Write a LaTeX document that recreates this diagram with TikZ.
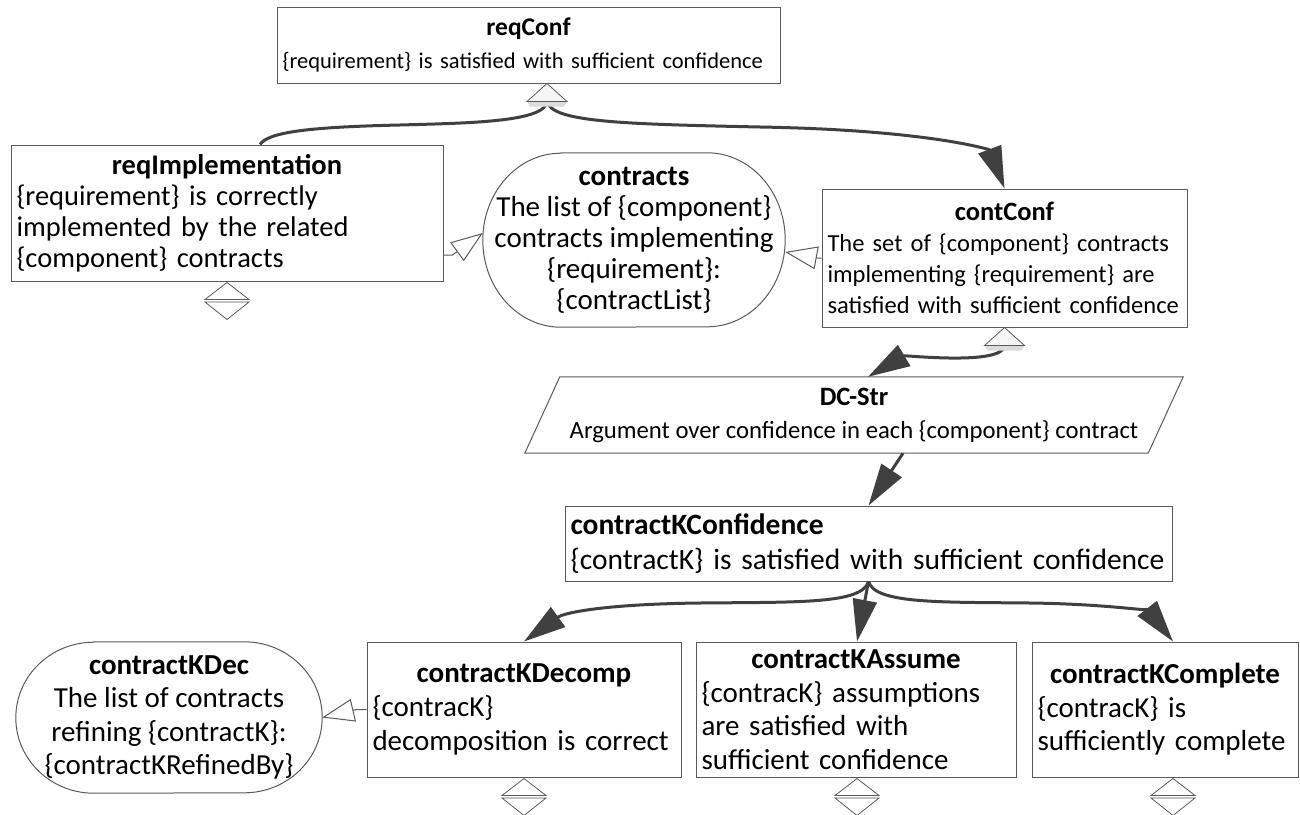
\documentclass[tikz,border=0pt]{standalone}
\usepackage{fontspec}
\setmainfont{Carlito}
\usetikzlibrary{arrows.meta,calc}
\definecolor{boxline}{HTML}{5A5A5A}
\definecolor{wire}{HTML}{404040}
\hyphenpenalty=10000
\exhyphenpenalty=10000
\newcommand\gsntitle[1]{\makebox[\linewidth]{\bfseries #1}}
% triangle marker hanging under a goal, with its soft shadow
\newcommand\optmark[1]{%
  \fill[gray!28] ($(#1)+(-20,18)$) -- ($(#1)+(20,18)$) -- ($(#1)+(17,23)$) -- ($(#1)+(-17,23)$) -- cycle;
  \draw[boxline, fill=gray!7, line width=0.8pt] (#1) -- ($(#1)+(20,18)$) -- ($(#1)+(-20,18)$) -- cycle;}
% undeveloped marker: two half diamonds split by a double bar
\newcommand\undevmark[1]{%
  \draw[boxline, fill=white, line width=0.8pt] (#1) -- ($(#1)+(22,17)$) -- ($(#1)+(-22,17)$) -- cycle;
  \draw[boxline, fill=white, line width=0.8pt] ($(#1)+(-22,19.5)$) -- ($(#1)+(22,19.5)$) -- ($(#1)+(0,37)$) -- cycle;}
\begin{document}
\begin{tikzpicture}[x=1pt,y=-1pt,
  fs/.style 2 args={font=\fontsize{#1}{#2}\selectfont},
  goal/.style={draw=boxline, line width=1pt, fill=white, inner xsep=5.5pt, inner ysep=0pt, align=left},
  ctx/.style={inner sep=0pt, align=center},
  support/.style={draw=wire, line width=3pt, -{Triangle[length=42pt,width=24pt]}},
  plain/.style={draw=wire, line width=3pt},
  incontext/.style={draw=boxline, line width=1pt, -{Triangle[open,length=32pt,width=23pt]}},
  outline/.style={draw=boxline, line width=1pt},
]
\fill[white] (0,0) rectangle (1300,814);
\useasboundingbox (0,0) rectangle (1300,814);

% ---- goals ----
\node[goal, fs={22.5}{33}, minimum width=503, minimum height=76, text width=492] (reqConf) at (528.5,45)
  {\gsntitle{\fontsize{25.5}{33}\selectfont reqConf}\\\{requirement\} is satisfied with sufficient confidence};
\node[goal, fs={28.5}{31}, minimum width=432, minimum height=136, text width=421] (reqImpl) at (227,213)
  {\gsntitle{reqImplementation}\\\{requirement\} is correctly\\implemented by the related\\\{component\} contracts};
\node[goal, fs={24.5}{31}, minimum width=365, minimum height=138, text width=354] (contConf) at (1004.5,258)
  {\gsntitle{\fontsize{26.5}{31}\selectfont contConf}\\The set of \{component\} contracts\\implementing \{requirement\} are\\satisfied with sufficient confidence};
\node[goal, fs={29.5}{35}, minimum width=607, minimum height=75, text width=596] (kConf) at (868.5,543.5)
  {\textbf{contractKConfidence}\\\{contractK\} is satisfied with sufficient confidence};
\node[goal, fs={29}{34}, minimum width=314, minimum height=135, text width=303] (kDecomp) at (524,709.5)
  {\gsntitle{contractKDecomp}\\\{contracK\}\\decomposition is correct};
\node[goal, fs={29}{33.5}, minimum width=320, minimum height=135, text width=309] (kAssume) at (856,709.5)
  {\gsntitle{contractKAssume}\\\{contracK\} assumptions\\are satisfied with\\sufficient confidence};
\node[goal, fs={29}{33.5}, minimum width=266, minimum height=135, text width=255] (kComplete) at (1165,709.5)
  {\gsntitle{contractKComplete}\\\{contracK\} is\\sufficiently complete};

% ---- contexts (stadium outlines) ----
\node[ctx, fs={29}{31}, minimum width=302, minimum height=174] (contracts) at (634,240)
  {\textbf{contracts}\\The list of \{component\}\\contracts implementing\\\{requirement\}:\\\{contractList\}};
\draw[outline] ([xshift=78pt]contracts.north west) -- ([xshift=-78pt]contracts.north east)
  arc[start angle=90, end angle=-90, x radius=78pt, y radius=87pt]
  -- ([xshift=78pt]contracts.south west)
  arc[start angle=270, end angle=90, x radius=78pt, y radius=87pt] -- cycle;
\node[ctx, fs={29}{33.5}, minimum width=306, minimum height=151] (kDec) at (169,717.5)
  {\textbf{contractKDec}\\The list of contracts\\refining \{contractK\}:\\\{contractKRefinedBy\}};
\draw[outline] ([xshift=78pt]kDec.north west) -- ([xshift=-78pt]kDec.north east)
  arc[start angle=90, end angle=-90, x radius=78pt, y radius=75.5pt]
  -- ([xshift=78pt]kDec.south west)
  arc[start angle=270, end angle=90, x radius=78pt, y radius=75.5pt] -- cycle;

% ---- strategy (parallelogram) ----
\node[ctx, fs={24.7}{33}, minimum width=658, minimum height=76] (dcStr) at (854,415)
  {\textbf{\fontsize{26.5}{33}\selectfont DC-Str}\\Argument over confidence in each \{component\} contract};
\draw[outline] ([xshift=35pt]dcStr.north west) -- (dcStr.north east)
  -- ([xshift=-35pt]dcStr.south east) -- (dcStr.south west) -- cycle;

% ---- marker anchors ----
\coordinate (rqTip) at ([xshift=18.5pt]reqConf.south);
\coordinate (rqBase) at ([yshift=-18pt]rqTip);
\coordinate (ccTip) at (contConf.south);
\coordinate (ccBase) at ([yshift=-18pt]ccTip);
\coordinate (kb) at (kConf.south);

% ---- supported-by connectors ----
\draw[plain] (rqBase) .. controls (545,122) and (470,123) .. (400,125)
  .. controls (310,127) and (268,132) .. ([xshift=33pt]reqImpl.north);
\draw[support] (rqBase) .. controls (552,122) and (620,124) .. (760,127)
  .. controls (930,130) and (990,150) .. (contConf.north);
\draw[support] (ccBase) .. controls (1003,366) and (905,355) .. ([xshift=14pt]dcStr.north);
\draw[support] ([xshift=49pt]dcStr.south) -- (kConf.north);
\draw[support] (kb) .. controls (862,604) and (800,602) .. (700,603)
  .. controls (610,604) and (565,612) .. (kDecomp.north);
\draw[support] (kb) -- ([xshift=1pt]kAssume.north);
\draw[support] (kb) .. controls (875,604) and (940,602) .. (1030,603)
  .. controls (1110,604) and (1150,612) .. ([xshift=8pt]kComplete.north);

\optmark{rqTip}
\optmark{ccTip}

% ---- in-context-of connectors ----
\draw[incontext] ([yshift=-42pt]reqImpl.east) -- ++(9,0) -- ([yshift=7pt]contracts.west);
\draw[incontext] (contConf.west) -- ++(-4,0) -- ([yshift=-12pt]contracts.east);
\draw[incontext] (kDecomp.west) -- ++(-10,0) -- (kDec.east);

% ---- undeveloped markers ----
\undevmark{[yshift=-1pt]reqImpl.south}
\undevmark{[yshift=-1pt]kDecomp.south}
\undevmark{[xshift=1pt,yshift=-1pt]kAssume.south}
\undevmark{[xshift=8pt,yshift=-1pt]kComplete.south}
\end{tikzpicture}
\end{document}
